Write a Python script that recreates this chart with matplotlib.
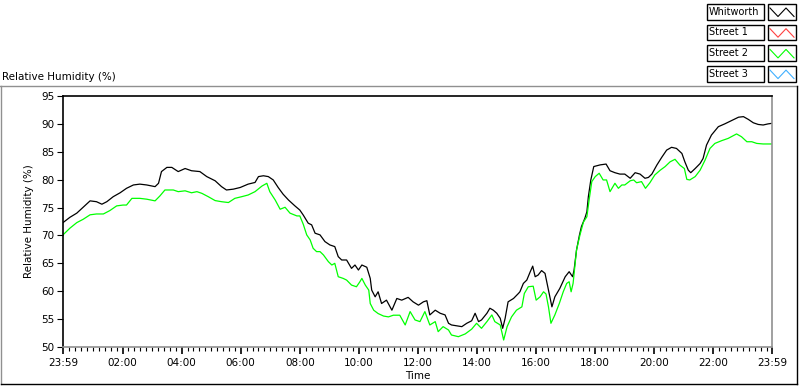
import matplotlib
matplotlib.use("Agg")
import matplotlib.pyplot as plt
from matplotlib.lines import Line2D
from matplotlib.patches import Rectangle

# ---------------- data ----------------
# time in minutes since 23:59 (start of record)
whit_t = [0, 14, 28, 41, 55, 68, 79, 89, 102, 116, 129, 143, 156, 170, 187, 194, 200, 211, 221, 234,
          248, 261, 278, 292, 309, 322, 332, 346, 360, 376, 390, 397, 407, 417, 427, 437, 447, 458, 471, 481,
          488, 498, 505, 512, 522, 532, 542, 552, 559, 566, 576, 586, 593, 600, 607, 617, 624, 627, 634, 640,
          647, 657, 668, 678, 688, 701, 711, 722, 732, 739, 745, 756, 766, 776, 783, 789, 800, 810, 820, 830,
          837, 844, 850, 861, 867, 874, 881, 888, 893, 898, 904, 915, 925, 928, 935, 942, 949, 954, 959, 965,
          972, 979, 986, 993, 999, 1009, 1020, 1028, 1035, 1038, 1043, 1049, 1053, 1060, 1064, 1067, 1072, 1078, 1091, 1103,
          1111, 1121, 1131, 1141, 1152, 1162, 1172, 1182, 1189, 1196, 1206, 1216, 1226, 1236, 1246, 1257, 1263, 1270, 1275, 1284,
          1294, 1300, 1307, 1317, 1331, 1344, 1358, 1372, 1382, 1392, 1402, 1412, 1422, 1432, 1440]
whit_v = [72.3, 73.25, 74.0, 75.05, 76.2, 76.05, 75.6, 76.05, 76.95, 77.65, 78.45, 79.05, 79.2, 79.05, 78.75, 79.35, 81.45, 82.2, 82.2, 81.45,
          82.0, 81.6, 81.45, 80.55, 79.8, 78.75, 78.15, 78.3, 78.6, 79.2, 79.5, 80.55, 80.7, 80.55, 79.95, 78.6, 77.4, 76.35, 75.3, 74.55,
          73.65, 72.2, 71.9, 70.4, 70.1, 68.9, 68.3, 68.0, 66.2, 65.6, 65.6, 64.1, 64.7, 63.8, 64.7, 64.3, 62.3, 60.2, 59.0, 59.9,
          57.8, 58.4, 56.6, 58.7, 58.4, 58.9, 58.1, 57.5, 58.1, 58.3, 55.75, 56.6, 56.05, 55.75, 54.25, 53.95, 53.8, 53.65, 54.25, 54.7,
          56.05, 54.55, 54.85, 56.05, 56.95, 56.6, 56.05, 55.15, 53.35, 55.15, 58.1, 58.7, 59.6, 59.9, 61.4, 62.0, 63.5, 64.5, 62.6, 62.9,
          63.7, 63.2, 60.2, 57.2, 59.0, 60.5, 62.6, 63.5, 62.6, 63.8, 67.4, 70.1, 71.6, 73.1, 74.25, 76.95, 79.95, 82.35, 82.65, 82.8,
          81.6, 81.25, 81.0, 81.0, 80.25, 81.25, 81.0, 80.25, 80.4, 81.0, 82.6, 84.0, 85.3, 85.8, 85.6, 84.7, 83.2, 81.7, 81.25, 82.0,
          82.9, 83.8, 86.2, 88.0, 89.5, 90.0, 90.6, 91.2, 91.3, 90.8, 90.2, 89.9, 89.8, 90.0, 90.1]

st2_t = [0, 14, 28, 41, 55, 68, 82, 95, 109, 122, 129, 140, 156, 170, 187, 197, 207, 224, 234, 248,
         261, 272, 282, 295, 309, 322, 336, 349, 363, 376, 390, 404, 414, 420, 431, 441, 451, 461, 475, 481,
         488, 495, 502, 508, 515, 522, 529, 539, 546, 552, 559, 569, 576, 586, 596, 603, 607, 614, 621, 624,
         631, 640, 651, 661, 671, 684, 695, 705, 715, 725, 735, 745, 756, 762, 772, 783, 789, 803, 817, 830,
         840, 850, 861, 871, 877, 888, 895, 902, 911, 921, 932, 937, 945, 955, 961, 969, 976, 981, 986, 991,
         999, 1008, 1016, 1023, 1028, 1032, 1036, 1043, 1050, 1057, 1064, 1069, 1074, 1081, 1089, 1097, 1104, 1111, 1121, 1128,
         1135, 1141, 1152, 1159, 1165, 1175, 1183, 1192, 1202, 1213, 1223, 1233, 1243, 1253, 1262, 1267, 1273, 1284, 1294, 1304,
         1314, 1324, 1338, 1351, 1368, 1378, 1389, 1399, 1409, 1422, 1440]
st2_v = [70.1, 71.3, 72.3, 72.9, 73.7, 73.85, 73.85, 74.45, 75.3, 75.45, 75.45, 76.65, 76.65, 76.5, 76.2, 77.1, 78.15, 78.15, 77.85, 78.0,
         77.65, 77.85, 77.55, 76.95, 76.25, 76.05, 75.9, 76.65, 76.95, 77.25, 77.85, 78.85, 79.35, 77.85, 76.35, 74.7, 75.05, 74.0, 73.5, 73.5,
         72.0, 70.1, 69.2, 67.7, 67.1, 67.1, 66.5, 65.3, 64.7, 65.0, 62.6, 62.3, 62.0, 61.1, 60.8, 61.7, 62.3, 61.1, 60.2, 57.8,
         56.6, 56.0, 55.55, 55.4, 55.7, 55.7, 53.95, 56.35, 54.85, 54.55, 56.35, 53.95, 54.55, 52.75, 53.65, 53.05, 52.15, 51.85, 52.35, 53.2,
         54.25, 53.35, 54.55, 55.75, 54.55, 53.95, 51.25, 53.65, 55.4, 56.6, 57.2, 59.6, 60.8, 60.9, 58.4, 59.0, 59.9, 59.5, 57.2, 54.25,
         55.75, 57.8, 59.9, 61.4, 61.7, 59.9, 61.4, 67.4, 70.1, 72.4, 73.35, 76.65, 79.65, 80.55, 81.15, 79.95, 79.95, 77.85, 79.35, 78.45,
         79.05, 79.05, 79.8, 79.95, 79.45, 79.65, 78.45, 79.45, 80.85, 81.7, 82.35, 83.2, 83.65, 82.6, 82.0, 80.05, 79.95, 80.55, 81.7, 83.5,
         85.6, 86.5, 87.0, 87.4, 88.2, 87.7, 86.8, 86.8, 86.5, 86.4, 86.4]

tick_pos = [0, 121, 241, 361, 481, 601, 721, 841, 961, 1081, 1201, 1321, 1440]
tick_lab = ["23:59", "02:00", "04:00", "06:00", "08:00", "10:00", "12:00",
            "14:00", "16:00", "18:00", "20:00", "22:00", "23:59"]
y_ticks = [50, 55, 60, 65, 70, 75, 80, 85, 90, 95]

legend_names = ["Whitworth", "Street 1", "Street 2", "Street 3"]
legend_colors = ["#000000", "#ff4040", "#00ff00", "#40b0ff"]

# ---------------- figure ----------------
W, H = 800, 386
fig = plt.figure(figsize=(W / 100, H / 100), dpi=100)
fig.patch.set_facecolor("white")

def fx(px):
    return px / W

def fy(py):
    return 1 - py / H

L, R, T, B = 63, 772, 96, 347
ax = fig.add_axes([fx(L), fy(B), fx(R) - fx(L), fy(T) - fy(B)])
ax.plot(whit_t, whit_v, color="#000000", lw=0.9)
ax.plot(st2_t, st2_v, color="#00ff00", lw=0.9)
ax.set_xlim(0, 1440)
ax.set_ylim(50, 95)

FS = 7.5
ax.set_xticks(tick_pos)
ax.set_xticklabels(tick_lab, fontsize=FS)
minor = [1 + 12 * k for k in range(1, 120) if (1 + 12 * k - 1) % 120 != 0]
ax.set_xticks(minor, minor=True)
ax.set_yticks(y_ticks)
ax.set_yticklabels([str(v) for v in y_ticks], fontsize=FS)
ax.tick_params(axis="x", which="major", direction="out", length=5, width=1.2, pad=3)
ax.tick_params(axis="x", which="minor", direction="out", length=3, width=0.8)
ax.tick_params(axis="y", which="major", direction="out", length=4, width=0.8, pad=2)
for s in ("left", "top"):
    ax.spines[s].set_color("black")
    ax.spines[s].set_linewidth(1.2)
for s in ("right", "bottom"):
    ax.spines[s].set_color("#909090")
    ax.spines[s].set_linewidth(1.2)

ax.set_xlabel("Time", fontsize=FS, labelpad=2)
ax.set_ylabel("Relative Humidity (%)", fontsize=FS, labelpad=5)

fig.text(fx(2), fy(77), "Relative Humidity (%)", fontsize=FS, ha="left", va="center")

# outer frame of graph
fig.add_artist(Line2D([fx(0), fx(797)], [fy(86), fy(86)], color="#909090", lw=1))
fig.add_artist(Line2D([fx(1), fx(1)], [fy(86), fy(384)], color="#909090", lw=1))
fig.add_artist(Line2D([fx(1), fx(797)], [fy(384), fy(384)], color="black", lw=1))
fig.add_artist(Line2D([fx(797), fx(797)], [fy(86), fy(384)], color="black", lw=1))

# legend
for i, (name, col) in enumerate(zip(legend_names, legend_colors)):
    top = 4 + i * 20.7
    hgt = 15.5
    fig.add_artist(Rectangle((fx(707), fy(top + hgt)), fx(764) - fx(707), hgt / H,
                             facecolor="white", edgecolor="black", lw=1))
    fig.text(fx(709), fy(top + hgt / 2), name, fontsize=7, ha="left", va="center")
    fig.add_artist(Rectangle((fx(768), fy(top + hgt)), fx(796) - fx(768), hgt / H,
                             facecolor="white", edgecolor="black", lw=1))
    xs = [fx(770), fx(778), fx(786), fx(794)]
    ys = [fy(top + 4), fy(top + hgt - 3), fy(top + 4), fy(top + hgt - 3)]
    fig.add_artist(Line2D(xs, ys, color=col, lw=0.8))

fig.savefig("out.png", dpi=100)
